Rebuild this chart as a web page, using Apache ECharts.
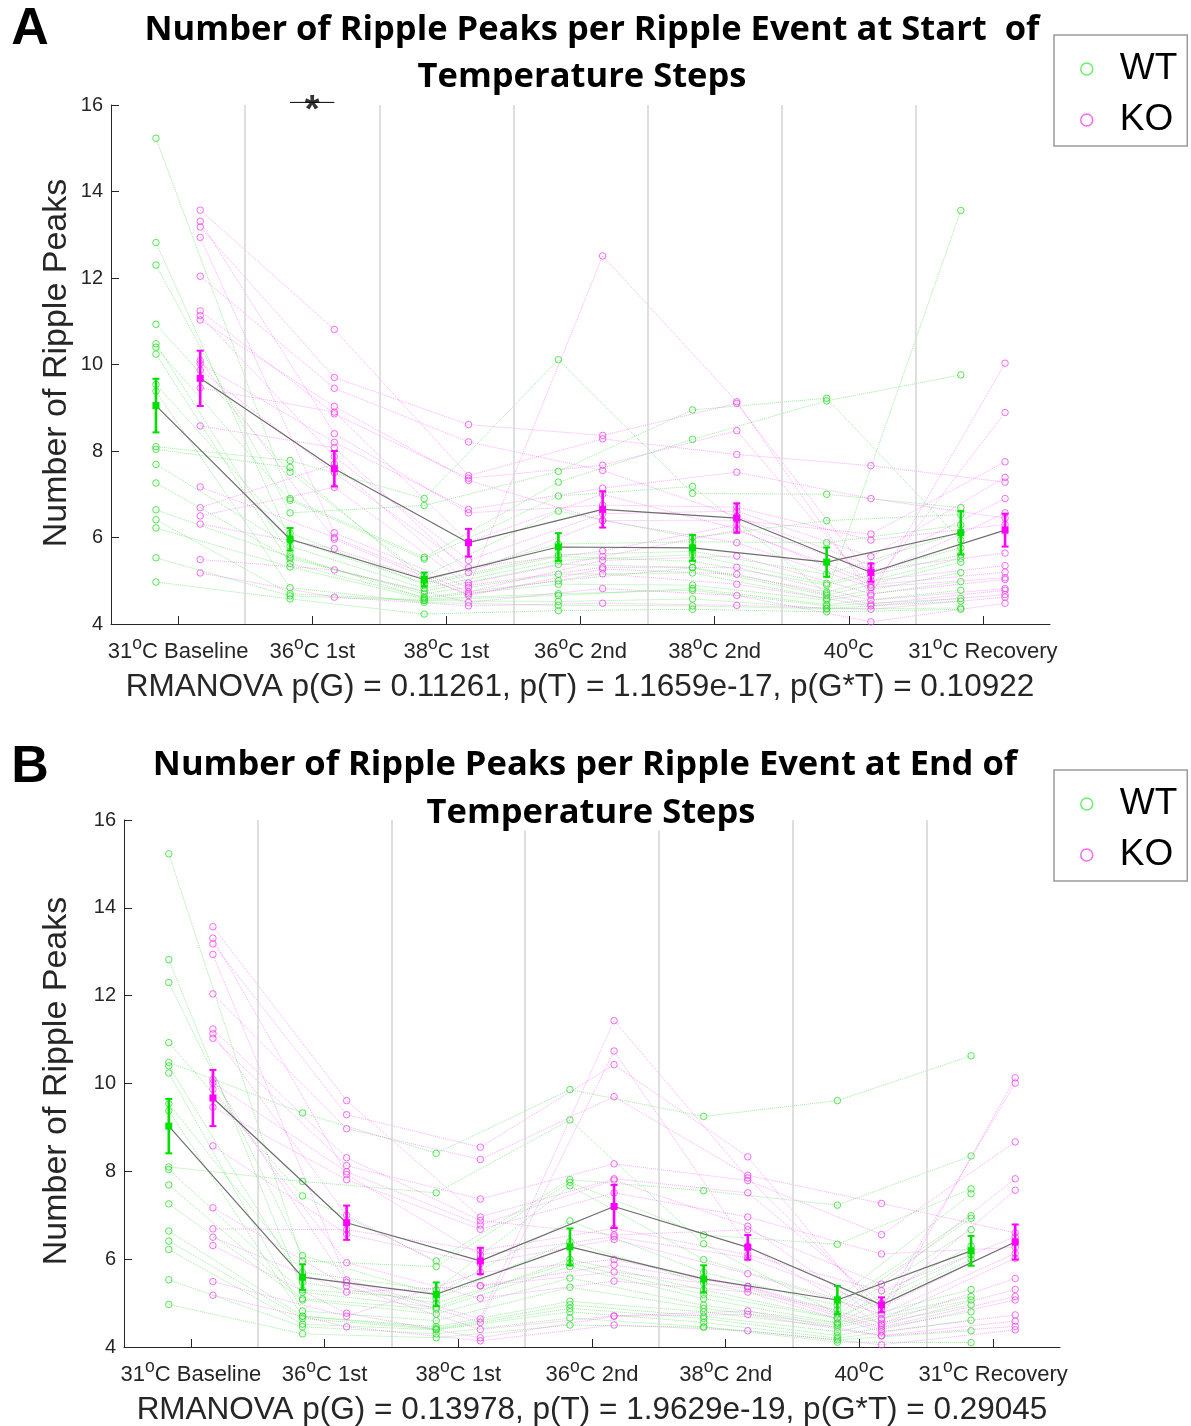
<!DOCTYPE html>
<html><head><meta charset="utf-8">
<script src="https://cdn.jsdelivr.net/npm/echarts@6/dist/echarts.min.js"></script>
<style>html,body{margin:0;padding:0;background:#fff}#c{width:1191px;height:1426px}</style>
</head><body><div id="c"></div>
<script>
// ---------- DATA ----------
const categories = ['31°C Baseline','36°C 1st','38°C 1st','36°C 2nd','38°C 2nd','40°C','31°C Recovery'];
const yTicks = {min: 4, max: 16, step: 2};

// Panel A (start of steps): each inner array = one temperature step, index = animal
const wtA = [
  [15.23,12.82,12.30,10.93,10.48,10.40,10.24,9.54,9.38,8.10,8.04,7.69,7.26,6.64,6.41,6.22,5.53,4.97],
  [6.90,5.95,6.57,7.51,5.60,6.86,5.40,6.10,4.84,7.78,7.62,5.80,5.51,5.55,4.70,5.32,4.65,4.58],
  [5.54,4.95,6.74,5.10,4.60,5.50,4.62,4.91,4.50,6.90,5.00,4.82,4.76,4.70,4.55,4.58,4.54,4.23],
  [7.28,5.60,7.53,6.61,4.92,6.96,5.00,5.56,4.43,10.11,5.85,5.47,5.38,5.15,4.66,4.70,4.52,4.31],
  [8.27,5.68,8.95,6.00,4.90,7.18,5.30,5.45,4.42,7.02,5.90,5.60,5.31,5.18,4.82,4.78,4.58,4.34],
  [9.16,5.15,9.22,6.39,4.55,4.70,4.66,4.90,4.35,7.00,5.88,4.94,4.74,4.59,4.45,4.42,4.36,4.28],
  [9.76,6.12,5.94,6.53,4.98,13.56,5.43,5.60,4.37,6.69,6.29,5.76,5.52,5.19,4.78,4.59,4.53,4.34]
];
const koA = [
  [13.57,13.31,13.18,12.94,12.04,11.24,11.13,11.03,10.09,10.02,9.87,9.46,8.58,7.17,6.69,6.50,6.31,5.49,5.18],
  [10.81,8.40,9.70,6.11,9.45,8.86,7.87,9.03,5.96,8.20,7.50,8.90,8.08,6.00,7.70,7.16,5.74,5.25,4.62],
  [7.43,6.57,8.61,4.84,8.21,7.37,5.47,7.32,4.66,6.65,5.30,5.90,5.19,4.74,4.95,4.89,4.70,4.50,4.42],
  [8.28,6.75,8.36,12.51,7.55,7.67,6.55,6.39,5.27,7.14,5.69,7.00,6.39,5.47,5.56,5.31,5.16,4.82,4.48],
  [7.92,6.70,9.10,9.14,6.49,8.47,6.61,5.88,5.15,7.51,6.30,6.20,6.40,5.57,6.17,5.31,4.92,4.66,4.43],
  [7.66,5.94,5.10,4.66,5.35,4.84,5.56,4.85,4.46,6.90,5.25,4.90,6.08,4.70,5.00,4.55,4.42,4.05,4.34],
  [7.28,6.30,6.57,10.03,6.90,8.89,7.39,5.07,4.78,6.45,5.64,5.20,7.75,5.03,5.35,4.82,4.68,4.48,4.62]
];
const wtMeanA = [9.05,5.96,5.03,5.78,5.76,5.43,6.11];
const wtSemA  = [0.62,0.26,0.16,0.32,0.30,0.34,0.50];
const koMeanA = [9.68,7.59,5.88,6.65,6.45,5.19,6.17];
const koSemA  = [0.64,0.41,0.32,0.42,0.34,0.21,0.38];

// Panel B (end of steps)
const wtB = [
  [15.23,12.82,12.30,10.93,10.48,10.40,10.24,9.54,9.38,8.10,8.04,7.69,7.26,6.64,6.41,6.22,5.53,4.97],
  [5.96,5.30,6.08,7.44,9.33,5.47,4.82,5.70,4.70,7.77,5.25,5.10,5.07,4.70,4.65,4.52,4.46,4.30],
  [5.83,5.10,5.20,5.96,8.41,5.00,4.60,5.30,4.46,7.51,4.90,4.86,4.75,4.42,4.40,4.39,4.30,4.21],
  [7.75,6.40,6.87,7.81,9.86,5.91,5.36,7.67,5.04,9.17,6.00,5.83,5.57,4.96,4.88,4.80,4.66,4.50],
  [6.55,5.45,5.70,7.56,9.25,5.20,4.88,5.99,4.80,6.35,5.30,5.10,4.95,4.70,4.65,4.56,4.46,4.45],
  [6.34,4.85,4.95,7.23,9.61,4.65,4.50,5.10,4.45,4.75,4.66,4.55,4.54,4.35,4.26,4.20,4.16,4.11],
  [7.60,6.93,6.99,8.35,10.63,6.10,5.15,7.49,5.07,6.67,6.30,5.99,5.31,4.96,4.80,4.61,4.37,4.10]
];
const koB = [
  [13.57,13.31,13.18,12.94,12.04,11.24,11.13,11.03,10.09,10.02,9.87,9.46,8.58,7.17,6.69,6.50,6.31,5.49,5.18],
  [9.61,7.93,9.29,5.53,8.97,8.31,7.00,8.13,5.47,7.99,5.92,7.81,6.57,5.39,6.67,5.25,4.77,4.70,4.46],
  [6.96,6.10,8.55,4.64,8.27,6.88,5.40,7.37,4.56,6.78,5.11,6.68,5.90,4.40,6.20,5.39,4.21,5.70,4.14],
  [7.83,6.51,10.43,11.43,9.70,6.55,5.87,8.17,10.74,7.80,5.50,7.51,6.45,4.71,6.70,5.71,4.70,5.99,4.50],
  [7.51,6.03,8.33,7.85,7.91,6.67,5.37,7.79,6.30,6.75,5.25,6.96,5.67,4.82,6.10,5.33,4.74,5.38,4.37],
  [5.00,4.90,4.65,4.86,7.27,5.43,4.45,6.56,4.50,4.62,4.35,6.12,4.75,4.26,5.28,4.40,4.25,4.54,4.05],
  [7.57,6.40,10.13,10.01,6.60,7.83,5.15,8.67,5.31,6.02,4.73,6.27,6.13,4.59,6.51,5.07,4.47,5.56,4.39]
];
const wtMeanB = [9.03,5.59,5.20,6.28,5.55,5.07,6.19];
const wtSemB  = [0.62,0.29,0.27,0.42,0.31,0.32,0.34];
const koMeanB = [9.67,6.83,5.96,7.20,6.27,4.96,6.39];
const koSemB  = [0.64,0.39,0.30,0.49,0.28,0.17,0.40];

const sigA = {category: 2, y: 16.06, text: '*'};
const titlesA = ['Number of Ripple Peaks per Ripple Event at Start  of', 'Temperature Steps'];
const titlesB = ['Number of Ripple Peaks per Ripple Event at End of', 'Temperature Steps'];
const statsA = 'RMANOVA p(G) = 0.11261, p(T) = 1.1659e-17, p(G*T) = 0.10922';
const statsB = 'RMANOVA p(G) = 0.13978, p(T) = 1.9629e-19, p(G*T) = 0.29045';
const yName = 'Number of Ripple Peaks';

// ---------- STYLE ----------
const OFF = 0.165;
const GREEN = '#00e000', MAG = '#ff00ff';
const AX = '#262626';
const FONT = 'Liberation Sans, Arial, sans-serif';
const TFONT = 'Open Sans, sans-serif';

const chart = echarts.init(document.getElementById('c'), null, {renderer: 'canvas'});

function labelFmt(v) {
  const parts = v.split('°');
  if (parts.length < 2) return '{n|' + v + '}';
  return '{n|' + parts[0] + '}{sup|o}{n|' + parts[1] + '}';
}

function xAxesFor(g) {
  return [
    {type: 'category', gridIndex: g, data: categories, boundaryGap: true,
     axisLine: {show: true, lineStyle: {color: AX, width: 1}},
     axisTick: {show: true, alignWithLabel: true, inside: true, length: 8, lineStyle: {color: AX}},
     splitLine: {show: false},
     axisLabel: {interval: 0, margin: 11, color: AX, fontSize: 22, fontFamily: FONT,
       formatter: labelFmt,
       rich: {
         n: {fontSize: 22, fontFamily: FONT, color: AX, lineHeight: 28, verticalAlign: 'bottom'},
         sup: {fontSize: 17.5, fontFamily: FONT, color: AX, lineHeight: 13, verticalAlign: 'top'}
       }}},
    {type: 'value', gridIndex: g, min: 0.5, max: 7.5, show: false}
  ];
}
function yAxisFor(g) {
  return {type: 'value', gridIndex: g, min: yTicks.min, max: yTicks.max, interval: yTicks.step,
    axisLine: {show: true, lineStyle: {color: AX, width: 1}},
    axisTick: {show: true, inside: true, length: 8, lineStyle: {color: AX}},
    splitLine: {show: false},
    axisLabel: {margin: 8, color: AX, fontSize: 20, fontFamily: FONT}};
}

function panelSeries(g, wt, ko, wtM, wtS, koM, koS) {
  const xi = g * 2 + 1, yi = g;
  const out = [];
  out.push({type: 'line', xAxisIndex: xi, yAxisIndex: yi, data: [], silent: true, z: 0,
    markLine: {silent: true, symbol: ['none', 'none'], label: {show: false}, animation: false,
      lineStyle: {color: '#d4d4d4', width: 1.5, type: 'solid'},
      data: categories.slice(1).map((_, i) => ({xAxis: i + 1.5}))}});
  const groups = [
    {vals: wt, off: -OFF, name: 'WT', line: 'rgba(0,215,0,0.4)', dot: 'rgba(40,225,40,0.8)'},
    {vals: ko, off: OFF, name: 'KO', line: 'rgba(255,0,255,0.34)', dot: 'rgba(240,60,240,0.75)'}
  ];
  groups.forEach(gr => {
    const n = gr.vals[0].length;
    for (let i = 0; i < n; i++) {
      out.push({type: 'line', name: gr.name, xAxisIndex: xi, yAxisIndex: yi, z: 2, silent: true,
        data: gr.vals.map((col, k) => [k + 1 + gr.off, col[i]]),
        symbol: 'circle', symbolSize: 6.5,
        itemStyle: {color: 'rgba(255,255,255,0)', borderColor: gr.dot, borderWidth: 1},
        lineStyle: {color: gr.line, width: 1, type: 'dotted'},
        emphasis: {disabled: true}});
    }
  });
  const means = [
    {m: wtM, s: wtS, off: -OFF, c: GREEN},
    {m: koM, s: koS, off: OFF, c: MAG}
  ];
  means.forEach(mm => {
    out.push({type: 'line', xAxisIndex: xi, yAxisIndex: yi, z: 5, silent: true,
      data: mm.m.map((v, k) => [k + 1 + mm.off, v]),
      symbol: 'rect', symbolSize: 7, itemStyle: {color: mm.c},
      lineStyle: {color: '#6e6e6e', width: 1.2}, emphasis: {disabled: true}});
    out.push({type: 'custom', xAxisIndex: xi, yAxisIndex: yi, z: 6, silent: true,
      data: mm.m.map((v, k) => [k + 1 + mm.off, v, mm.s[k]]),
      encode: {x: 0, y: 1},
      renderItem: (params, api) => {
        const x = api.value(0), m = api.value(1), s = api.value(2);
        const t = api.coord([x, m + s]), b = api.coord([x, m - s]);
        const hw = 3.5;
        return {type: 'group', children: [
          {type: 'line', shape: {x1: t[0], y1: t[1], x2: b[0], y2: b[1]}, style: {stroke: mm.c, lineWidth: 2.6}},
          {type: 'line', shape: {x1: t[0] - hw, y1: t[1], x2: t[0] + hw, y2: t[1]}, style: {stroke: mm.c, lineWidth: 2}},
          {type: 'line', shape: {x1: b[0] - hw, y1: b[1], x2: b[0] + hw, y2: b[1]}, style: {stroke: mm.c, lineWidth: 2}}
        ]};
      }});
  });
  return out;
}

const series = [].concat(
  panelSeries(0, wtA, koA, wtMeanA, wtSemA, koMeanA, koSemA),
  panelSeries(1, wtB, koB, wtMeanB, wtSemB, koMeanB, koSemB)
);
series.push({type: 'line', xAxisIndex: 1, yAxisIndex: 0, clip: false, z: 7, silent: true,
  data: [[sigA.category - OFF, sigA.y], [sigA.category + OFF, sigA.y]], symbol: 'none',
  lineStyle: {color: '#000', width: 1}});
series.push({type: 'scatter', xAxisIndex: 1, yAxisIndex: 0, clip: false, z: 8, silent: true,
  data: [[sigA.category, sigA.y]], symbolSize: 0,
  label: {show: true, position: 'inside', formatter: sigA.text, fontSize: 38, fontWeight: 'bold',
    fontFamily: FONT, color: '#000', offset: [0, 9]}});

function legendAt(top) {
  return {orient: 'vertical', left: 1054, top: top, selectedMode: false,
    itemWidth: 56, itemHeight: 12, itemGap: 7, padding: [12, 10, 4, 26],
    borderColor: '#9a9a9a', borderWidth: 1.5, backgroundColor: '#fff',
    textStyle: {fontSize: 37, fontFamily: FONT, color: '#000', lineHeight: 44},
    data: [
      {name: 'WT', icon: 'circle', itemStyle: {color: 'rgba(255,255,255,0)', borderColor: '#6cf06c', borderWidth: 1.5}},
      {name: 'KO', icon: 'circle', itemStyle: {color: 'rgba(255,255,255,0)', borderColor: '#f56cf5', borderWidth: 1.5}}
    ]};
}

function txt(x, y, text, size, opts) {
  return Object.assign({type: 'text', x: x, y: y, silent: true, z: 100,
    style: Object.assign({text: text, fontSize: size, fontFamily: FONT, fill: '#000', align: 'center', verticalAlign: 'middle'}, opts || {})});
}

const graphics = [
  txt(30, 30, 'A', 52, {fontWeight: 'bold'}),
  txt(592, 30, titlesA[0], 34.5, {fontWeight: 'bold', fontFamily: TFONT}),
  txt(582, 77, titlesA[1], 34.5, {fontWeight: 'bold', fontFamily: TFONT}),
  txt(580, 687, statsA, 31.5, {fill: AX}),
  Object.assign(txt(57, 363, yName, 34, {fill: AX}), {rotation: Math.PI / 2}),
  txt(30, 768, 'B', 52, {fontWeight: 'bold'}),
  txt(585, 765, titlesB[0], 34.5, {fontWeight: 'bold', fontFamily: TFONT}),
  txt(591, 813, titlesB[1], 34.5, {fontWeight: 'bold', fontFamily: TFONT, backgroundColor: '#fff', padding: [0, 2, 0, 2]}),
  txt(592, 1410, statsB, 31.5, {fill: AX}),
  Object.assign(txt(57, 1081, yName, 34, {fill: AX}), {rotation: Math.PI / 2})
];

chart.setOption({
  animation: false,
  backgroundColor: '#fff',
  grid: [
    {left: 111, top: 105, width: 939, height: 519, containLabel: false},
    {left: 124, top: 820, width: 936, height: 527, containLabel: false}
  ],
  xAxis: [].concat(xAxesFor(0), xAxesFor(1)),
  yAxis: [yAxisFor(0), yAxisFor(1)],
  legend: [legendAt(35), legendAt(770)],
  series: series,
  graphic: {elements: graphics}
});
</script>
</body></html>
